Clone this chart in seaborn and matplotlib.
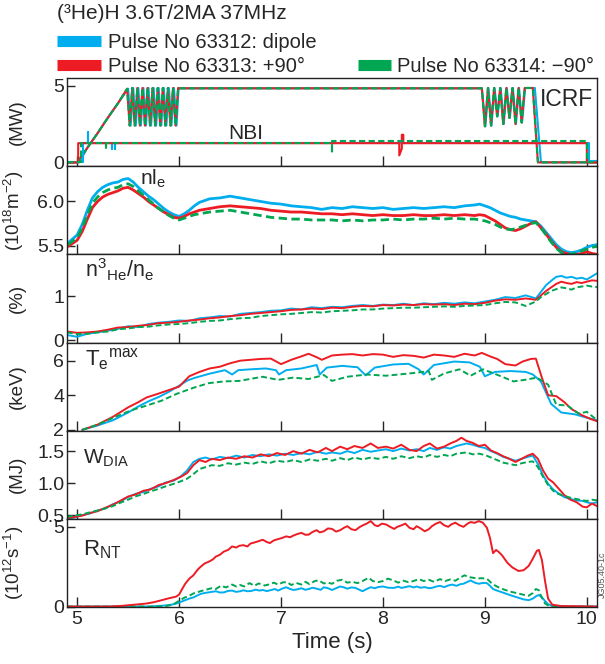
import matplotlib

matplotlib.use("Agg")

import matplotlib.pyplot as plt
import seaborn as sns
from matplotlib.lines import Line2D

BLUE = "#00AEEF"
RED = "#ED1C24"
GREEN = "#00A651"
DASH = (0, (3.0, 1.6))

SERIES_LABELS = ["Pulse No 63312: dipole", "Pulse No 63313: +90\u00b0", "Pulse No 63314: \u221290\u00b0"]

# ---- panel 1: heating power (MW) ----
icrf_t = [4.9, 5.0, 5.1, 5.2, 5.3, 5.4, 5.49,
          5.515, 5.54, 5.565, 5.59, 5.615, 5.64, 5.665, 5.69, 5.715, 5.74,
          5.765, 5.79, 5.815, 5.84, 5.865, 5.89, 5.915, 5.94, 5.965, 5.99, 6.0,
          8.97, 9.0, 9.03, 9.06, 9.09, 9.12, 9.15, 9.18, 9.21, 9.24, 9.27,
          9.3, 9.33, 9.36, 9.39, 9.47, 9.52, 10.1]
icrf_v = [0.0, 0.0, 0.95, 1.9, 2.9, 3.85, 4.8,
          2.4, 4.85, 2.4, 4.85, 2.4, 4.85, 2.4, 4.85, 2.4, 4.85,
          2.4, 4.85, 2.4, 4.85, 2.4, 4.85, 2.4, 4.85, 2.4, 4.85, 4.83,
          4.83, 2.35, 4.85, 2.4, 4.85, 3.0, 4.85, 2.5, 4.85, 2.9, 4.85,
          2.5, 4.85, 2.6, 4.85, 4.85, 0.0, 0.0]
icrf_blue_t = [4.9, 5.02, 5.1, 5.2, 5.3, 5.4, 5.5,
               5.525, 5.55, 5.575, 5.6, 5.625, 5.65, 5.675, 5.7, 5.725, 5.75,
               5.775, 5.8, 5.825, 5.85, 5.875, 5.9, 5.925, 5.95, 5.975, 5.995, 6.0,
               8.97, 9.005, 9.035, 9.065, 9.095, 9.125, 9.155, 9.185, 9.215, 9.245, 9.275,
               9.305, 9.335, 9.365, 9.395, 9.49, 9.55, 10.1]

nbi_red_t = [4.9, 5.01, 5.01, 8.16, 8.16, 8.185, 8.185, 8.2, 8.2, 10.0, 10.0, 10.1]
nbi_red_v = [0.0, 0.0, 1.25, 1.25, 0.45, 0.9, 1.8, 1.8, 1.25, 1.25, 0.0, 0.0]
nbi_blue_t = [4.9, 5.06, 5.06, 5.11, 5.11, 5.11, 5.34, 5.34, 5.34, 5.37, 5.37, 5.37,
              10.02, 10.02, 10.1]
nbi_blue_v = [0.05, 0.05, 1.25, 1.25, 2.0, 1.25, 1.25, 0.9, 1.25, 1.25, 0.9, 1.25,
              1.25, 0.08, 0.08]
nbi_green_t = [4.9, 5.04, 5.04, 5.28, 5.28, 5.28, 7.5, 7.5, 7.5, 10.0, 10.0, 10.1]
nbi_green_v = [0.0, 0.0, 1.25, 1.25, 0.85, 1.25, 1.25, 0.6, 1.38, 1.38, 0.0, 0.0]

# ---- panel 2: line integrated density (1e18 m^-2) ----
dens_t = [4.91, 5.0, 5.05, 5.1, 5.15, 5.2, 5.25, 5.3, 5.35, 5.4, 5.45, 5.5, 5.55,
          5.6, 5.65, 5.7, 5.75, 5.8, 5.85, 5.9, 5.95, 6.0, 6.05, 6.1, 6.15, 6.2,
          6.3, 6.4, 6.5, 6.6, 6.7, 6.8, 6.9, 7.0, 7.1, 7.2, 7.3, 7.4, 7.5, 7.6,
          7.7, 7.8, 7.9, 8.0, 8.1, 8.2, 8.3, 8.4, 8.5, 8.6, 8.7, 8.8, 8.9,
          8.95, 9.0, 9.05, 9.1, 9.15, 9.2, 9.25, 9.3, 9.35, 9.4, 9.45, 9.5, 9.55,
          9.6, 9.65, 9.7, 9.75, 9.8, 9.85, 9.9, 9.95, 10.0, 10.05, 10.1]
dens_blue = [5.53, 5.62, 5.74, 5.90, 6.04, 6.11, 6.16, 6.19, 6.21, 6.22, 6.25, 6.26, 6.22,
             6.16, 6.11, 6.06, 6.02, 5.97, 5.92, 5.88, 5.85, 5.83, 5.86, 5.90, 5.95, 5.99,
             6.03, 6.04, 6.06, 6.04, 6.02, 6.00, 5.98, 5.97, 5.95, 5.94, 5.93, 5.91, 5.93, 5.92,
             5.94, 5.93, 5.92, 5.93, 5.91, 5.92, 5.93, 5.92, 5.93, 5.94, 5.93, 5.95, 5.96,
             5.97, 5.95, 5.93, 5.90, 5.87, 5.85, 5.83, 5.82, 5.80, 5.79, 5.78, 5.77, 5.72,
             5.65, 5.58, 5.51, 5.46, 5.43, 5.42, 5.43, 5.45, 5.48, 5.50, 5.51]
dens_red = [5.49, 5.56, 5.66, 5.80, 5.93, 6.00, 6.05, 6.08, 6.10, 6.12, 6.15, 6.16, 6.13,
            6.09, 6.05, 6.00, 5.96, 5.92, 5.88, 5.85, 5.82, 5.81, 5.83, 5.86, 5.88, 5.90,
            5.92, 5.94, 5.95, 5.94, 5.93, 5.92, 5.90, 5.89, 5.88, 5.88, 5.87, 5.86, 5.86, 5.85,
            5.86, 5.85, 5.84, 5.85, 5.84, 5.84, 5.85, 5.84, 5.84, 5.85, 5.84, 5.85, 5.84,
            5.85, 5.84, 5.81, 5.78, 5.74, 5.70, 5.68, 5.67, 5.69, 5.72, 5.75, 5.77, 5.70,
            5.63, 5.55, 5.48, 5.43, 5.41, 5.40, 5.40, 5.41, 5.43, 5.41, 5.40]
dens_green = [5.51, 5.59, 5.70, 5.85, 5.98, 6.05, 6.10, 6.13, 6.15, 6.16, 6.19, 6.20, 6.17,
              6.12, 6.07, 6.02, 5.97, 5.92, 5.88, 5.84, 5.81, 5.79, 5.81, 5.83, 5.85, 5.86,
              5.88, 5.89, 5.90, 5.88, 5.86, 5.84, 5.82, 5.81, 5.80, 5.80, 5.79, 5.79, 5.79, 5.78,
              5.79, 5.78, 5.79, 5.79, 5.80, 5.79, 5.80, 5.80, 5.81, 5.80, 5.81, 5.80, 5.80,
              5.79, 5.78, 5.76, 5.74, 5.71, 5.69, 5.68, 5.69, 5.71, 5.73, 5.75, 5.76, 5.70,
              5.62, 5.54, 5.47, 5.42, 5.40, 5.40, 5.42, 5.44, 5.46, 5.48, 5.49]

# ---- panel 3: 3He concentration (%) ----
he_t = [4.9, 5.0, 5.1, 5.2, 5.3, 5.4, 5.5, 5.6, 5.7, 5.8,
        5.9, 6.0, 6.1, 6.2, 6.3, 6.4, 6.5, 6.6, 6.7, 6.8,
        6.9, 7.0, 7.1, 7.2, 7.3, 7.4, 7.5, 7.6, 7.7, 7.8,
        7.9, 8.0, 8.1, 8.2, 8.3, 8.4, 8.5, 8.6, 8.7, 8.8,
        8.9, 9.0, 9.1, 9.2, 9.3, 9.4, 9.5,
        9.55, 9.6, 9.65, 9.7, 9.75, 9.8, 9.85, 9.9, 9.95, 10.0, 10.05, 10.1]
he_blue = [0.12, 0.08, 0.15, 0.18, 0.22, 0.26, 0.32, 0.30, 0.37, 0.40,
           0.42, 0.45, 0.44, 0.50, 0.52, 0.55, 0.54, 0.60, 0.62, 0.64,
           0.67, 0.68, 0.72, 0.70, 0.75, 0.73, 0.76, 0.75, 0.78, 0.80,
           0.78, 0.81, 0.80, 0.83, 0.80, 0.84, 0.82, 0.85, 0.83, 0.86,
           0.84, 0.88, 0.92, 0.98, 0.96, 1.02, 0.95,
           1.10, 1.25, 1.35, 1.44, 1.46, 1.42, 1.44, 1.40, 1.42, 1.38, 1.45, 1.52]
he_red = [0.20, 0.17, 0.18, 0.20, 0.24, 0.29, 0.30, 0.33, 0.35, 0.39,
          0.40, 0.42, 0.45, 0.47, 0.50, 0.52, 0.55, 0.57, 0.60, 0.62,
          0.64, 0.66, 0.69, 0.70, 0.72, 0.71, 0.74, 0.73, 0.76, 0.78,
          0.77, 0.80, 0.79, 0.81, 0.80, 0.82, 0.81, 0.82, 0.80, 0.83,
          0.82, 0.85, 0.90, 0.93, 0.92, 0.95, 0.92,
          1.02, 1.12, 1.20, 1.28, 1.33, 1.30, 1.28, 1.32, 1.30, 1.33, 1.36, 1.35]
he_green = [0.18, 0.14, 0.15, 0.18, 0.20, 0.25, 0.27, 0.30, 0.31, 0.34,
            0.36, 0.37, 0.39, 0.42, 0.44, 0.45, 0.48, 0.50, 0.51, 0.55,
            0.57, 0.59, 0.60, 0.62, 0.64, 0.63, 0.66, 0.67, 0.68, 0.70,
            0.70, 0.72, 0.73, 0.74, 0.74, 0.75, 0.76, 0.77, 0.76, 0.78,
            0.79, 0.80, 0.84, 0.87, 0.86, 0.78, 0.88,
            0.98, 1.05, 1.12, 1.16, 1.20, 1.18, 1.15, 1.20, 1.22, 1.24, 1.22, 1.21]

# ---- panel 4: peak electron temperature (keV) ----
te_red_t = [5.05, 5.2, 5.35, 5.5, 5.6, 5.68, 5.8, 5.9, 6.0, 6.1, 6.2, 6.3, 6.4, 6.5,
            6.6, 6.7, 6.8, 6.9, 7.0, 7.1, 7.2, 7.27, 7.35, 7.4, 7.5, 7.6, 7.7, 7.8,
            7.9, 8.0, 8.1, 8.2, 8.3, 8.4, 8.5, 8.6, 8.7, 8.8, 8.9, 8.97, 9.05, 9.12,
            9.2, 9.3, 9.37, 9.45, 9.5, 9.56, 9.62, 9.7, 9.78, 9.85, 9.95, 10.05, 10.1]
te_red = [2.0, 2.3, 2.75, 3.3, 3.6, 3.87, 4.1, 4.3, 4.5, 5.1, 5.35, 5.55, 5.65, 5.85,
          6.0, 6.05, 6.1, 6.12, 5.8, 6.05, 6.25, 6.4, 6.2, 6.05, 6.3, 6.35, 6.38, 6.3,
          6.38, 6.35, 6.22, 6.32, 6.28, 6.18, 6.35, 6.3, 6.22, 6.4, 6.3, 6.45, 6.25, 6.1,
          5.8, 5.72, 5.95, 6.1, 6.12, 5.0, 4.0, 3.95, 3.6, 3.2, 2.85, 2.6, 2.5]
te_blue_t = [5.05, 5.2, 5.35, 5.5, 5.6, 5.7, 5.8, 5.9, 6.0, 6.08, 6.15, 6.3, 6.45, 6.52,
             6.58, 6.7, 6.85, 6.95, 6.98, 7.05, 7.2, 7.35, 7.38, 7.45, 7.6, 7.75, 7.83,
             7.92, 8.1, 8.25, 8.35, 8.4, 8.5, 8.7, 8.85, 8.95, 9.0, 9.1, 9.25, 9.4, 9.47,
             9.55, 9.65, 9.75, 9.88, 10.0, 10.1]
te_blue = [2.0, 2.25, 2.55, 3.0, 3.35, 3.65, 3.9, 4.2, 4.55, 4.85, 5.0, 5.25, 5.45, 5.2,
           5.45, 5.5, 5.55, 5.45, 5.2, 5.45, 5.55, 5.75, 5.2, 5.6, 5.7, 5.62, 5.15,
           5.6, 5.78, 5.82, 5.5, 5.2, 5.75, 5.95, 5.9, 5.65, 5.1, 5.35, 5.4, 5.35, 5.2,
           4.8, 3.5, 3.0, 2.9, 2.7, 2.55]
te_green_t = [5.05, 5.2, 5.38, 5.53, 5.68, 5.83, 5.98, 6.14, 6.29, 6.44, 6.59, 6.82, 6.97,
              7.12, 7.27, 7.42, 7.5, 7.65, 7.84, 8.03, 8.26, 8.45, 8.48, 8.6, 8.75, 8.86,
              8.98, 9.05, 9.17, 9.28, 9.39, 9.51, 9.62, 9.7, 9.81, 9.92, 10.0, 10.09]
te_green = [2.0, 2.3, 2.76, 3.13, 3.4, 3.69, 4.09, 4.43, 4.7, 4.8, 4.83, 5.07, 4.89,
            5.02, 4.94, 5.17, 4.83, 5.07, 5.2, 5.13, 5.26, 5.39, 4.89, 5.26, 5.5, 5.13,
            5.5, 5.35, 5.07, 4.8, 4.89, 5.02, 4.61, 3.46, 3.4, 2.94, 3.04, 2.61]

# ---- panel 5: diamagnetic energy (MJ) ----
w_t = [4.9, 4.97, 5.05, 5.12, 5.2, 5.27, 5.35, 5.42, 5.5, 5.57,
       5.65, 5.72, 5.8, 5.87, 5.95, 6.02, 6.08, 6.14, 6.2, 6.26,
       6.32, 6.4, 6.48, 6.56, 6.64, 6.72, 6.8, 6.88, 6.96, 7.04,
       7.12, 7.2, 7.28, 7.36, 7.44, 7.5, 7.58, 7.65, 7.72, 7.8,
       7.88, 7.95, 8.03, 8.1, 8.18, 8.26, 8.33, 8.4, 8.46, 8.53,
       8.6, 8.66, 8.72, 8.77, 8.82, 8.88, 8.94, 9.0, 9.06, 9.12,
       9.18, 9.24, 9.3, 9.36, 9.42, 9.47, 9.52, 9.57, 9.62, 9.67,
       9.72, 9.78, 9.84, 9.9, 9.96, 10.0, 10.05, 10.1]
w_blue = [0.44, 0.46, 0.50, 0.52, 0.57, 0.60, 0.67, 0.71, 0.78, 0.83,
          0.86, 0.91, 0.95, 1.01, 1.04, 1.11, 1.20, 1.33, 1.38, 1.40,
          1.37, 1.41, 1.39, 1.43, 1.40, 1.44, 1.42, 1.45, 1.43, 1.46,
          1.44, 1.47, 1.45, 1.49, 1.46, 1.48, 1.46, 1.50, 1.47, 1.52,
          1.49, 1.51, 1.53, 1.50, 1.54, 1.51, 1.53, 1.50, 1.55, 1.52,
          1.56, 1.54, 1.58, 1.60, 1.62, 1.60, 1.57, 1.55, 1.50, 1.46,
          1.41, 1.38, 1.35, 1.38, 1.41, 1.43, 1.30, 1.12, 0.99, 0.90,
          0.84, 0.78, 0.75, 0.73, 0.72, 0.70, 0.68, 0.70]
w_red = [0.45, 0.47, 0.49, 0.53, 0.56, 0.61, 0.66, 0.72, 0.79, 0.82,
         0.88, 0.90, 0.97, 1.00, 1.05, 1.10, 1.16, 1.28, 1.36, 1.33,
         1.38, 1.36, 1.40, 1.38, 1.42, 1.40, 1.45, 1.42, 1.47, 1.44,
         1.50, 1.46, 1.52, 1.48, 1.55, 1.50, 1.57, 1.53, 1.58, 1.55,
         1.62, 1.55, 1.57, 1.54, 1.60, 1.52, 1.50, 1.58, 1.62, 1.54,
         1.57, 1.62, 1.66, 1.71, 1.66, 1.63, 1.58, 1.60, 1.51, 1.47,
         1.42, 1.38, 1.33, 1.38, 1.43, 1.46, 1.38, 1.20, 1.07, 1.01,
         0.92, 0.81, 0.74, 0.70, 0.63, 0.62, 0.68, 0.64]
w_green = [0.47, 0.49, 0.51, 0.54, 0.57, 0.60, 0.64, 0.69, 0.74, 0.79,
           0.83, 0.87, 0.91, 0.95, 0.99, 1.03, 1.07, 1.14, 1.22, 1.25,
           1.28, 1.27, 1.31, 1.29, 1.32, 1.30, 1.34, 1.31, 1.35, 1.33,
           1.36, 1.33, 1.37, 1.35, 1.38, 1.35, 1.39, 1.36, 1.40, 1.37,
           1.40, 1.38, 1.41, 1.38, 1.42, 1.39, 1.42, 1.40, 1.44, 1.41,
           1.44, 1.42, 1.46, 1.47, 1.48, 1.45, 1.46, 1.44, 1.40, 1.36,
           1.32, 1.30, 1.28, 1.31, 1.33, 1.34, 1.25, 1.10, 0.97, 0.88,
           0.83, 0.80, 0.77, 0.75, 0.73, 0.72, 0.74, 0.73]

# ---- panel 6: neutron rate (1e12 s^-1) ----
rnt_red_t = [4.9, 5.3, 5.38, 5.45, 5.53, 5.6, 5.68, 5.75, 5.83, 5.9, 5.97, 6.0, 6.03,
             6.06, 6.1, 6.14, 6.18, 6.21, 6.25, 6.29, 6.33, 6.36, 6.4, 6.44, 6.48, 6.52,
             6.56, 6.59, 6.63, 6.67, 6.7, 6.74, 6.78, 6.82, 6.86, 6.89, 6.93, 6.97, 7.01,
             7.05, 7.09, 7.12, 7.16, 7.2, 7.24, 7.27, 7.31, 7.35, 7.38, 7.42, 7.46, 7.5,
             7.54, 7.58, 7.62, 7.65, 7.69, 7.73, 7.77, 7.8, 7.84, 7.88, 7.92, 7.95, 7.99,
             8.03, 8.07, 8.11, 8.14, 8.18, 8.22, 8.26, 8.3, 8.33, 8.37, 8.41, 8.45, 8.48,
             8.52, 8.56, 8.6, 8.64, 8.67, 8.71, 8.75, 8.79, 8.83, 8.86, 8.9, 8.94, 8.98,
             9.02, 9.05, 9.08, 9.11, 9.14, 9.17, 9.22, 9.27, 9.33, 9.38, 9.43, 9.47, 9.51,
             9.53, 9.56, 9.59, 9.62, 9.66, 9.75, 9.9, 10.1]
rnt_red = [0.0, 0.0, 0.02, 0.05, 0.1, 0.14, 0.19, 0.27, 0.4, 0.52, 0.62, 0.75, 1.1,
           1.43, 1.75, 1.96, 2.3, 2.49, 2.7, 2.81, 2.95, 3.13, 3.25, 3.45, 3.55, 3.77,
           3.7, 3.81, 3.85, 3.77, 3.95, 4.02, 4.1, 4.19, 4.05, 3.98, 4.15, 4.23, 4.3,
           4.4, 4.35, 4.45, 4.55, 4.62, 4.5, 4.51, 4.68, 4.79, 4.65, 4.72, 4.9, 4.87,
           4.7, 4.79, 4.95, 5.04, 4.85, 4.79, 4.98, 5.09, 5.2, 5.36, 5.1, 5.04, 5.2,
           5.15, 5.0, 4.87, 5.0, 5.09, 5.2, 4.94, 4.85, 5.04, 4.9, 4.72, 4.85, 5.04,
           5.2, 5.3, 5.1, 5.0, 5.15, 5.26, 5.1, 5.0, 5.2, 5.3, 5.25, 5.36, 5.26,
           4.94, 4.3, 3.35, 3.55, 3.4, 3.2, 2.75, 2.45, 2.23, 2.28, 2.55, 3.0, 3.5,
           3.55, 2.9, 1.6, 0.5, 0.12, 0.03, 0.02, 0.0]
rnt_blue_t = [4.9, 5.7, 5.76, 5.83, 5.91, 5.97, 6.0, 6.06, 6.1, 6.14, 6.18, 6.21, 6.25,
              6.29, 6.33, 6.36, 6.4, 6.44, 6.48, 6.52, 6.56, 6.6, 6.63, 6.67, 6.71, 6.75,
              6.79, 6.82, 6.86, 6.9, 6.94, 6.97, 7.01, 7.05, 7.09, 7.12, 7.16, 7.2, 7.24,
              7.27, 7.31, 7.35, 7.39, 7.42, 7.46, 7.5, 7.54, 7.58, 7.62, 7.65, 7.69, 7.73,
              7.77, 7.8, 7.84, 7.88, 7.92, 7.95, 8.0, 8.05, 8.11, 8.15, 8.18, 8.22, 8.26,
              8.3, 8.33, 8.37, 8.41, 8.45, 8.48, 8.52, 8.56, 8.6, 8.64, 8.68, 8.72, 8.76,
              8.79, 8.83, 8.86, 8.9, 8.94, 8.98, 9.02, 9.05, 9.08, 9.12, 9.17, 9.22, 9.27,
              9.32, 9.38, 9.43, 9.47, 9.51, 9.53, 9.56, 9.59, 9.62, 9.66, 9.7, 10.1]
rnt_blue = [0.0, 0.0, 0.02, 0.05, 0.1, 0.18, 0.25, 0.4, 0.5, 0.57, 0.7, 0.79, 0.85,
            0.89, 0.93, 0.96, 0.88, 0.89, 0.98, 1.0, 0.92, 0.96, 1.02, 0.96, 0.98, 1.06,
            1.0, 1.04, 0.97, 1.03, 1.1, 1.0, 1.12, 1.21, 1.1, 1.04, 1.08, 1.15, 1.05,
            1.1, 1.18, 1.12, 1.05, 1.21, 1.15, 1.04, 1.15, 1.26, 1.2, 1.12, 1.2, 1.17,
            1.05, 0.96, 1.1, 1.21, 1.15, 1.22, 1.26, 1.18, 1.17, 1.25, 1.17, 1.22, 1.28,
            1.2, 1.26, 1.18, 1.22, 1.15, 1.17, 1.25, 1.3, 1.22, 1.32, 1.38, 1.3, 1.4,
            1.43, 1.55, 1.64, 1.5, 1.43, 1.48, 1.47, 1.3, 1.1, 1.0, 0.89, 0.78, 0.67,
            0.57, 0.45, 0.4, 0.5, 0.68, 0.72, 0.57, 0.35, 0.15, 0.04, 0.0, 0.0]
rnt_green_t = [4.9, 5.8, 5.88, 5.94, 5.99, 6.05, 6.1, 6.15, 6.21, 6.26, 6.32, 6.36, 6.41,
               6.46, 6.52, 6.56, 6.6, 6.64, 6.69, 6.74, 6.78, 6.84, 6.89, 6.93, 6.97, 7.02,
               7.06, 7.1, 7.15, 7.2, 7.24, 7.28, 7.33, 7.37, 7.42, 7.46, 7.5, 7.55, 7.6,
               7.65, 7.7, 7.75, 7.8, 7.86, 7.9, 7.95, 8.0, 8.05, 8.1, 8.15, 8.2, 8.25,
               8.3, 8.35, 8.4, 8.45, 8.5, 8.56, 8.61, 8.66, 8.71, 8.76, 8.8, 8.84, 8.88,
               8.93, 8.97, 9.02, 9.06, 9.1, 9.15, 9.2, 9.26, 9.32, 9.38, 9.43, 9.47, 9.5,
               9.53, 9.55, 9.59, 9.63, 9.7, 10.1]
rnt_green = [0.0, 0.0, 0.04, 0.12, 0.32, 0.55, 0.68, 0.85, 0.96, 1.05, 1.15, 1.1, 1.3,
             1.2, 1.38, 1.26, 1.35, 1.26, 1.47, 1.3, 1.45, 1.32, 1.4, 1.5, 1.38, 1.52,
             1.53, 1.35, 1.48, 1.38, 1.55, 1.4, 1.6, 1.64, 1.45, 1.5, 1.43, 1.62, 1.68,
             1.5, 1.55, 1.47, 1.6, 1.81, 1.6, 1.53, 1.6, 1.75, 1.64, 1.5, 1.62, 1.53,
             1.6, 1.72, 1.6, 1.68, 1.55, 1.72, 1.6, 1.7, 1.62, 1.82, 1.96, 1.85, 1.81,
             1.76, 1.78, 1.74, 1.5, 1.32, 1.15, 1.04, 0.92, 0.83, 0.74, 0.68, 0.85, 1.1,
             1.02, 0.68, 0.19, 0.03, 0.0, 0.0]

Y_TICKS = [[0, 5], [5.5, 6.0], [0, 1], [2, 4, 6], [0.5, 1.0, 1.5], [0, 5]]
Y_TICKLABELS = [["0", "5"], ["5.5", "6.0"], ["0", "1"], ["2", "4", "6"],
                ["0.5", "1.0", "1.5"], ["0", "5"]]
Y_LIMS = [(-0.25, 5.5), (5.4, 6.4), (-0.05, 1.95), (1.95, 7.05), (0.44, 1.82), (-0.03, 5.5)]
Y_LABELS = ["(MW)", "(10$^{18}$m$^{-2}$)", "(%)", "(keV)", "(MJ)", "(10$^{12}$s$^{-1}$)"]
X_TICKS = [5, 6, 7, 8, 9, 10]


def trace(ax, t, v, color, dashed=False, lw=1.4):
    sns.lineplot(x=t, y=v, ax=ax, color=color, lw=lw, estimator=None, sort=False,
                 linestyle=DASH if dashed else "-", legend=False)


def swatch(color):
    return Line2D([0], [0], color=color, lw=8, solid_capstyle="butt")


sns.set_theme(style="ticks")
plt.rcParams["font.family"] = ["Liberation Sans", "DejaVu Sans"]
plt.rcParams["mathtext.fontset"] = "custom"
plt.rcParams["mathtext.rm"] = "Liberation Sans"
plt.rcParams["mathtext.default"] = "regular"

fig = plt.figure(figsize=(6.05, 6.64), dpi=100)
axes = fig.subplots(6, 1, sharex=True, gridspec_kw=dict(hspace=0))
fig.subplots_adjust(left=0.1107, right=0.9868, top=0.8825, bottom=0.0858)

ax = axes[0]
trace(ax, icrf_blue_t, icrf_v, BLUE, lw=1.5)
trace(ax, icrf_t, icrf_v, RED, lw=1.5)
trace(ax, icrf_t, icrf_v, GREEN, dashed=True, lw=1.5)
trace(ax, nbi_blue_t, nbi_blue_v, BLUE, lw=1.5)
trace(ax, nbi_red_t, nbi_red_v, RED, lw=1.5)
trace(ax, nbi_green_t, nbi_green_v, GREEN, dashed=True, lw=1.5)
ax.text(0.892, 0.755, "ICRF", transform=ax.transAxes, fontsize=16.5, va="center")
ax.text(0.304, 0.367, "NBI", transform=ax.transAxes, fontsize=15, va="center")

ax = axes[1]
trace(ax, dens_t, dens_blue, BLUE, lw=2.0)
trace(ax, dens_t, dens_red, RED, lw=2.0)
trace(ax, dens_t, dens_green, GREEN, dashed=True, lw=2.0)
ax.text(0.138, 0.86, "nl$_e$", transform=ax.transAxes, fontsize=15, va="center")

ax = axes[2]
trace(ax, he_t, he_blue, BLUE)
trace(ax, he_t, he_red, RED)
trace(ax, he_t, he_green, GREEN, dashed=True)
ax.text(0.034, 0.83, "n$^3$$_{He}$/n$_e$", transform=ax.transAxes, fontsize=15.5, va="center")

ax = axes[3]
trace(ax, te_blue_t, te_blue, BLUE)
trace(ax, te_red_t, te_red, RED)
trace(ax, te_green_t, te_green, GREEN, dashed=True)
ax.text(0.034, 0.81, "T$_e$$^{max}$", transform=ax.transAxes, fontsize=16, va="center")

ax = axes[4]
trace(ax, w_t, w_blue, BLUE)
trace(ax, w_t, w_red, RED)
trace(ax, w_t, w_green, GREEN, dashed=True)
ax.text(0.03, 0.69, "W$_{DIA}$", transform=ax.transAxes, fontsize=15, va="center")

ax = axes[5]
trace(ax, rnt_blue_t, rnt_blue, BLUE)
trace(ax, rnt_green_t, rnt_green, GREEN, dashed=True)
trace(ax, rnt_red_t, rnt_red, RED)
ax.text(0.03, 0.655, "R$_{NT}$", transform=ax.transAxes, fontsize=16, va="center")

for i, ax in enumerate(axes):
    ax.set_xlim(4.9, 10.1)
    ax.set_ylim(*Y_LIMS[i])
    ax.set_yticks(Y_TICKS[i])
    ax.set_yticklabels(Y_TICKLABELS[i])
    ax.set_xticks(X_TICKS)
    ax.set_ylabel(Y_LABELS[i], fontsize=13.5)
    ax.yaxis.set_label_coords(-0.078, 0.5)
    ax.tick_params(axis="y", direction="in", length=6, width=1, labelsize=14, pad=2)
    ax.tick_params(axis="x", direction="in", length=7, width=1, labelsize=14, pad=3)
    for side in ["top", "bottom", "left", "right"]:
        ax.spines[side].set_visible(True)
        ax.spines[side].set_linewidth(1.0)
        ax.spines[side].set_color("#222222")

axes[-1].set_xlabel("Time (s)", fontsize=16, labelpad=3)

fig.text(0.094, 0.979, "(\u00b3He)H 3.6T/2MA 37MHz", fontsize=15, va="center")
fig.legend([swatch(BLUE), swatch(RED)], SERIES_LABELS[:2], loc="center left",
           bbox_to_anchor=(0.094, 0.918), frameon=False, fontsize=14.5,
           handlelength=2.2, handletextpad=0.33, labelspacing=0.22,
           borderpad=0, borderaxespad=0)
fig.legend([swatch(GREEN)], SERIES_LABELS[2:], loc="center left",
           bbox_to_anchor=(0.5917, 0.8995), frameon=False, fontsize=14.5,
           handlelength=1.65, handletextpad=0.3, borderpad=0, borderaxespad=0)

fig.text(0.989, 0.135, "JG05.40-1c", fontsize=6.5, color="#555555", rotation=90,
         ha="left", va="center")

fig.savefig("out.png", dpi=100)
